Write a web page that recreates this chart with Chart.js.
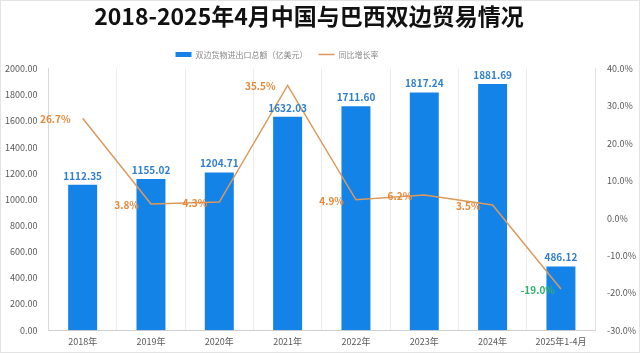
<!DOCTYPE html>
<html>
<head>
<meta charset="utf-8">
<script src="https://cdn.jsdelivr.net/npm/chart.js@4/dist/chart.umd.min.js"></script>
<style>
  html, body { margin: 0; padding: 0; background: #fff; }
  #wrap { width: 640px; height: 353px; position: relative; }
</style>
</head>
<body>
<div id="wrap"><canvas id="c"></canvas></div>
<script>
const categories = ["2018年", "2019年", "2020年", "2021年", "2022年", "2023年", "2024年", "2025年1-4月"];
const tradeValues = [1112.35, 1155.02, 1204.71, 1632.03, 1711.60, 1817.24, 1881.69, 486.12];
const growthRates = [26.7, 3.8, 4.3, 35.5, 4.9, 6.2, 3.5, -19.0];

const FONT = "'Microsoft YaHei', 'Noto Sans CJK SC', sans-serif";

// value labels: bars get blue bold text on top, line points get a % to the left
const labelPlugin = {
  id: "valueLabels",
  afterDatasetsDraw(chart) {
    const ctx = chart.ctx;
    ctx.save();
    const bars = chart.getDatasetMeta(0).data;
    ctx.font = "bold 10px " + FONT;
    ctx.fillStyle = "#2f7fd0";
    ctx.textAlign = "center";
    ctx.textBaseline = "bottom";
    bars.forEach((b, i) => ctx.fillText(tradeValues[i].toFixed(2), b.x, b.y - 4));

    const pts = chart.getDatasetMeta(1).data;
    ctx.textAlign = "right";
    ctx.textBaseline = "middle";
    pts.forEach((p, i) => {
      const v = growthRates[i];
      ctx.fillStyle = v < 0 ? "#2fb36b" : "#e8893a";
      ctx.fillText(v.toFixed(1) + "%", p.x - (v < 0 ? 6 : 12), p.y + 1);
    });
    ctx.restore();
  }
};

// title and legend sit a bit left of centre in the original
const shiftPlugin = {
  id: "shiftBlocks",
  afterLayout(chart) {
    chart.legend.left -= 44;
    chart.legend.right -= 44;
    chart.titleBlock.left -= 12;
    chart.titleBlock.right -= 12;
  }
};

// thin grey frame round the whole picture
const framePlugin = {
  id: "frame",
  afterDraw(chart) {
    const ctx = chart.ctx;
    ctx.save();
    ctx.strokeStyle = "#e3e3e3";
    ctx.lineWidth = 1;
    ctx.strokeRect(0.5, 0.5, chart.width - 1, chart.height - 1);
    ctx.restore();
  }
};

new Chart(document.getElementById("c"), {
  data: {
    labels: categories,
    datasets: [
      {
        type: "bar",
        label: "双边货物进出口总额（亿美元）",
        data: tradeValues,
        backgroundColor: "#1483e8",
        pointStyle: "rect",
        yAxisID: "y",
        categoryPercentage: 0.8,
        barPercentage: 0.53,
        order: 2
      },
      {
        type: "line",
        label: "同比增长率",
        data: growthRates,
        borderColor: "#dc9a5c",
        backgroundColor: "#dc9a5c",
        borderWidth: 1.5,
        pointStyle: "line",
        pointRadius: 0,
        tension: 0,
        yAxisID: "y1",
        order: 1
      }
    ]
  },
  options: {
    responsive: true,
    maintainAspectRatio: false,
    animation: false,
    layout: { padding: { left: 2, right: 0, top: 2, bottom: 0 } },
    plugins: {
      title: {
        display: true,
        text: "2018-2025年4月中国与巴西双边贸易情况",
        font: { family: FONT, size: 23, weight: "bold" },
        color: "#111",
        padding: { top: 0, bottom: 10 }
      },
      legend: {
        labels: {
          font: { family: FONT, size: 8 },
          color: "#888",
          usePointStyle: true,
          pointStyleWidth: 16,
          boxWidth: 16,
          boxHeight: 5,
          padding: 11,
          sort: (a, b) => a.datasetIndex - b.datasetIndex
        }
      },
      tooltip: { enabled: false }
    },
    scales: {
      x: {
        grid: { display: true, offset: true, color: "#ececec", drawTicks: false },
        border: { color: "#d0d0d0" },
        ticks: { font: { family: FONT, size: 9 }, color: "#595959", padding: 6 }
      },
      y: {
        position: "left",
        min: 0,
        max: 2000,
        grid: { display: false },
        border: { color: "#d9d9d9" },
        ticks: {
          stepSize: 200,
          font: { family: FONT, size: 9 },
          color: "#595959",
          callback: v => v.toFixed(2)
        }
      },
      y1: {
        position: "right",
        min: -30,
        max: 40,
        grid: { display: false },
        border: { color: "#e0e0e0" },
        ticks: {
          stepSize: 10,
          font: { family: FONT, size: 9 },
          color: "#595959",
          padding: 4,
          callback: v => v.toFixed(1) + "%"
        }
      }
    }
  },
  plugins: [labelPlugin, shiftPlugin, framePlugin]
});
</script>
</body>
</html>
